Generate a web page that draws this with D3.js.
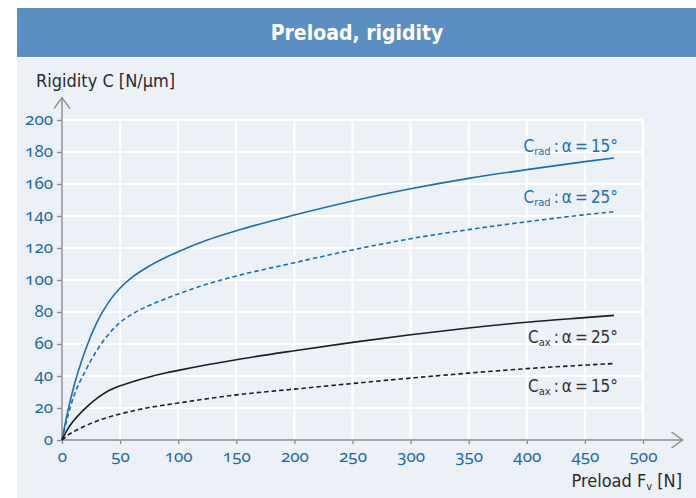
<!DOCTYPE html>
<html>
<head>
<meta charset="utf-8">
<script src="https://cdn.jsdelivr.net/npm/d3@7"></script>
<style>
  html, body { margin: 0; padding: 0; background: #ffffff; }
  svg { display: block; }
  .onum { font-variant-numeric: oldstyle-nums; font-feature-settings: "onum" 1; }
</style>
</head>
<body>
<svg id="chart" width="696" height="498"></svg>
<script>
// ---------- data ----------
const title = "Preload, rigidity";
const yTitle = "Rigidity C [N/\u00B5m]";
const xTicks = [0, 50, 100, 150, 200, 250, 300, 350, 400, 450, 500];
const yTicks = [0, 20, 40, 60, 80, 100, 120, 140, 160, 180, 200];
const preload = [0, 5, 10, 20, 30, 40, 50, 60, 75, 90, 100, 125, 150, 200, 250, 300, 350, 400, 450, 475];
const cRad15 = [0, 18, 33, 56, 73.5, 86, 95, 101.5, 108.7, 114.4, 117.7, 125, 130.8, 140.6, 149.4, 157, 163.5, 169, 174, 176.3];
const cRad25 = [0, 15, 27, 43, 56, 66, 73.5, 78.5, 84, 88.5, 91.3, 97.5, 102.5, 110.8, 118.8, 125.8, 131.5, 136.4, 140.8, 142.7];
const cAx25  = [0, 7, 12, 19.8, 26, 30.8, 33.9, 36.3, 39.4, 42, 43.5, 47, 50.2, 55.8, 61, 65.8, 70, 73.6, 76.5, 77.9];
const cAx15  = [0, 3, 5.2, 8.8, 11.8, 14.3, 16.3, 18, 20.3, 22, 23.1, 25.8, 28.2, 31.8, 35.3, 38.7, 41.8, 44.6, 46.8, 47.8];
const seriesNames = [
  { sub: "rad", rest: "\u2009:\u2009\u03B1\u2009=\u200915\u00B0" },
  { sub: "rad", rest: "\u2009:\u2009\u03B1\u2009=\u200925\u00B0" },
  { sub: "ax",  rest: "\u2009:\u2009\u03B1\u2009=\u200925\u00B0" },
  { sub: "ax",  rest: "\u2009:\u2009\u03B1\u2009=\u200915\u00B0" }
];

// ---------- styles ----------
const FONT = "'Liberation Sans Narrow', 'Arial Narrow', 'DejaVu Sans Condensed', sans-serif";
const NUMFONT = "'Noto Sans', Lato, sans-serif";
const BLUE = "#1d6fad";
const TICKBLUE = "#1f6aa5";
const DARK = "#2a2a2a";

const svg = d3.select("#chart");

// background band + panel
svg.append("rect").attr("x", 17).attr("y", 8).attr("width", 679).attr("height", 49).attr("fill", "#5b8fc2");
svg.append("rect").attr("x", 17).attr("y", 58).attr("width", 679).attr("height", 440).attr("fill", "#ecf0f7");

svg.append("text")
  .attr("x", 357).attr("y", 40)
  .attr("text-anchor", "middle")
  .attr("font-family", FONT).attr("font-weight", "bold").attr("font-size", 21)
  .attr("fill", "#ffffff")
  .text(title);

// scales
const x = d3.scaleLinear().domain([0, 500]).range([62, 643]);
const y = d3.scaleLinear().domain([0, 200]).range([440, 120]);

// grid
const grid = svg.append("g");
grid.selectAll("line.v").data(xTicks.filter(d => d > 0)).join("line")
  .attr("x1", d => x(d)).attr("x2", d => x(d))
  .attr("y1", y(0)).attr("y2", y(200))
  .attr("stroke", "#ffffff").attr("stroke-width", 2);
grid.selectAll("line.h").data(yTicks.filter(d => d > 0)).join("line")
  .attr("x1", x(0)).attr("x2", x(500))
  .attr("y1", d => y(d)).attr("y2", d => y(d))
  .attr("stroke", "#ffffff").attr("stroke-width", 2);

// axes
const xAxis = svg.append("g").attr("transform", `translate(0,${y(0)})`)
  .call(d3.axisBottom(x).tickValues(xTicks).tickSize(4).tickPadding(6).tickFormat(d3.format("d")));
const yAxis = svg.append("g").attr("transform", `translate(${x(0)},0)`)
  .call(d3.axisLeft(y).tickValues(yTicks).tickSize(5).tickPadding(4).tickFormat(d3.format("d")));
[xAxis, yAxis].forEach(a => {
  a.select(".domain").remove();
  a.selectAll(".tick line").attr("stroke", "#8a8a8a").attr("stroke-width", 1.3);
  a.selectAll(".tick text")
    .attr("class", "onum")
    .attr("fill", TICKBLUE)
    .attr("font-family", NUMFONT)
    .attr("font-size", 17);
});
xAxis.selectAll(".tick text").attr("dy", "0.71em");
yAxis.selectAll(".tick text").attr("dy", "0.27em");

// axis lines with open arrows
const axisG = svg.append("g").attr("stroke", "#8a8a8a").attr("stroke-width", 1.4).attr("fill", "none");
const xEnd = x(534), yEnd = y(214);
axisG.append("line").attr("x1", x(0)).attr("x2", xEnd).attr("y1", y(0)).attr("y2", y(0));
axisG.append("line").attr("x1", x(0)).attr("x2", x(0)).attr("y1", y(0)).attr("y2", yEnd);
axisG.append("polyline").attr("points", `${xEnd - 11},${y(0) - 8} ${xEnd},${y(0)} ${xEnd - 11},${y(0) + 8}`);
axisG.append("polyline").attr("points", `${x(0) - 8},${yEnd + 11} ${x(0)},${yEnd} ${x(0) + 8},${yEnd + 11}`);

// axis titles
svg.append("text").attr("x", 36).attr("y", 87)
  .attr("font-family", FONT).attr("font-size", 18).attr("fill", DARK)
  .text(yTitle);
const xt = svg.append("text").attr("x", 682).attr("y", 487).attr("text-anchor", "end")
  .attr("font-family", FONT).attr("font-size", 18).attr("fill", DARK);
xt.append("tspan").text("Preload F");
xt.append("tspan").attr("font-size", 11).attr("dy", 3).text("v");
xt.append("tspan").attr("dy", -3).text(" [N]");

// curves
const series = [
  { vals: cRad15, color: BLUE, dash: null },
  { vals: cRad25, color: BLUE, dash: "4.5,3" },
  { vals: cAx25,  color: "#1e1e1e", dash: null },
  { vals: cAx15,  color: "#1e1e1e", dash: "4.5,3" }
];
const line = d3.line().x(d => x(d[0])).y(d => y(d[1])).curve(d3.curveMonotoneX);
svg.append("g").selectAll("path").data(series).join("path")
  .attr("d", s => line(preload.map((p, i) => [p, s.vals[i]])))
  .attr("fill", "none")
  .attr("stroke", s => s.color)
  .attr("stroke-width", 1.6)
  .attr("stroke-dasharray", s => s.dash);

// curve labels
const labelPos = [
  { y: 152, color: BLUE },
  { y: 203, color: BLUE },
  { y: 343, color: "#333333" },
  { y: 392, color: "#333333" }
];
seriesNames.forEach((n, i) => {
  const t = svg.append("text")
    .attr("x", 618).attr("y", labelPos[i].y).attr("text-anchor", "end")
    .attr("font-family", FONT).attr("font-size", 17).attr("fill", labelPos[i].color);
  t.append("tspan").text("C");
  t.append("tspan").attr("font-size", 11).attr("dy", 3).text(n.sub);
  t.append("tspan").attr("dy", -3).text(n.rest);
});
</script>
</body>
</html>
